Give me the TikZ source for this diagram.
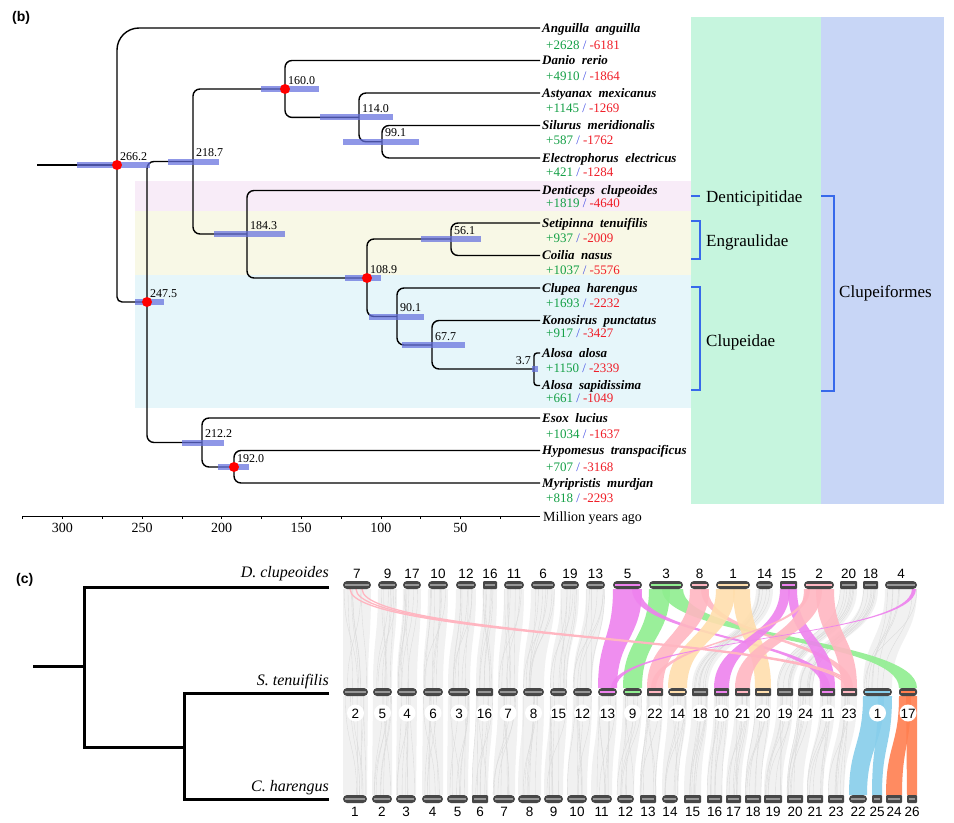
\documentclass[tikz,border=0pt]{standalone}
\usepackage{fontspec}
\setmainfont{Liberation Serif}
\newfontfamily\sansf{Liberation Sans}
\usetikzlibrary{calc}
\definecolor{bandpink}{RGB}{248,236,248}
\definecolor{bandyellow}{RGB}{248,248,230}
\definecolor{bandcyan}{RGB}{230,246,250}
\definecolor{panelgreen}{RGB}{198,245,222}
\definecolor{panelblue}{RGB}{200,214,246}
\definecolor{bracketblue}{RGB}{55,105,235}
\definecolor{hpd}{RGB}{100,112,222}
\definecolor{numgreen}{RGB}{20,160,70}
\definecolor{numblue}{RGB}{70,80,230}
\definecolor{numred}{RGB}{240,30,40}
\definecolor{cviolet}{RGB}{238,130,238}
\definecolor{cgreen}{RGB}{144,238,144}
\definecolor{cpink}{RGB}{255,182,193}
\definecolor{cwheat}{RGB}{255,222,173}
\definecolor{csky}{RGB}{135,206,235}
\definecolor{ccoral}{RGB}{255,127,80}
\definecolor{chrstripe}{RGB}{150,150,150}
\newcommand\synrib[7]{\fill[#1,fill opacity=0.9] (#2,#4) .. controls (#2,{(#4+#7)/2}) and (#5,{(#4+#7)/2}) .. (#5,#7) -- (#6,#7) .. controls (#6,{(#4+#7)/2}) and (#3,{(#4+#7)/2}) .. (#3,#4) -- cycle;}
\newcommand\grayrib[6]{%
 \fill[gray!11] (#1,#3) .. controls (#1,{(#3+#6)/2}) and (#4,{(#3+#6)/2}) .. (#4,#6) -- (#5,#6) .. controls (#5,{(#3+#6)/2}) and (#2,{(#3+#6)/2}) .. (#2,#3) -- cycle;
 \foreach \k in {1,...,7}{%
   \pgfmathsetmacro\pa{#1+rnd*(#2-#1)}%
   \pgfmathsetmacro\pb{#4+rnd*(#5-#4)}%
   \draw[gray!28,line width=0.35bp] (\pa,#3) .. controls (\pa,{(#3+#6)/2}) and (\pb,{(#3+#6)/2}) .. (\pb,#6);
 }}
\begin{document}
\begin{tikzpicture}[x=1bp,y=-1bp,
  branch/.style={line width=1.4bp,black,rounded corners=7bp},
  hpdbar/.style={line width=6bp,hpd,opacity=0.72},
  reddot/.style={fill=red},
  sp/.style={font=\fontsize{13bp}{15bp}\selectfont\bfseries\itshape,inner sep=0},
  num/.style={font=\fontsize{13bp}{15bp}\selectfont,inner sep=0},
  agelab/.style={font=\fontsize{12bp}{14bp}\selectfont,inner sep=0},
  fam/.style={font=\fontsize{17bp}{19bp}\selectfont,inner sep=0},
  axlab/.style={font=\fontsize{14bp}{16bp}\selectfont,inner sep=0},
  panellab/.style={font=\sansf\bfseries\fontsize{14bp}{16bp}\selectfont,inner sep=0},
  cspecies/.style={font=\fontsize{16bp}{18bp}\selectfont\itshape,inner sep=0},
  chrlab/.style={font=\sansf\fontsize{13.5bp}{15bp}\selectfont,inner sep=0},
  bracket/.style={line width=2bp,bracketblue},
  ctree/.style={line width=3bp,black,line join=miter},
  chrbody/.style={fill=black!72}
]
\pgfmathsetseed{11}
\useasboundingbox (0,0) rectangle (954,823);
\fill[white] (0,0) rectangle (954,823);
% ---------- panel (b) backgrounds
\fill[bandpink] (135,181) rectangle (691,211);
\fill[bandyellow] (135,211) rectangle (691,275);
\fill[bandcyan] (135,275) rectangle (691,408);
\fill[panelgreen] (691,17) rectangle (821,504);
\fill[panelblue] (821,17) rectangle (944,504);
\node[panellab,anchor=west] (pb) at (12,18) {(b)};
% ---------- leaves and internal nodes
\coordinate (root) at (37,165);
\coordinate (L1) at (540,28);
\coordinate (L2) at (540,60.5);
\coordinate (L3) at (540,93);
\coordinate (L4) at (540,125.5);
\coordinate (L5) at (540,158);
\coordinate (L6) at (540,190.5);
\coordinate (L7) at (540,223);
\coordinate (L8) at (540,255.5);
\coordinate (L9) at (540,288);
\coordinate (L10) at (540,320.5);
\coordinate (L11) at (540,353);
\coordinate (L12) at (540,385.5);
\coordinate (L13) at (540,418);
\coordinate (L14) at (540,450.5);
\coordinate (L15) at (540,483);
\coordinate (n266) at (117,165);
\coordinate (n247) at (147,302);
\coordinate (n218) at (193,161.5);
\coordinate (n160) at (285,89);
\coordinate (n114) at (359,117.4);
\coordinate (n099) at (382,141.75);
\coordinate (n184) at (247,234);
\coordinate (n108) at (367,278);
\coordinate (n056) at (451,239);
\coordinate (n090) at (397,316.5);
\coordinate (n067) at (432,345);
\coordinate (n003) at (534,369);
\coordinate (n212) at (202,442.5);
\coordinate (n192) at (234,467);
% ---------- branches
\draw[branch] (root) -- (n266);
\draw[branch,rounded corners=22bp] (L1) -| (n266);
\draw[branch,rounded corners=5bp] (n266) |- (n247);
\draw[branch] (n218) -| (n247) |- (n212);
\draw[branch] (n160) -| (n218) |- (n184);
\draw[branch] (L2) -| (n160) |- (n114);
\draw[branch] (L3) -| (n114) |- (n099);
\draw[branch] (L4) -| (n099) |- (L5);
\draw[branch] (L6) -| (n184) |- (n108);
\draw[branch] (n056) -| (n108) |- (n090);
\draw[branch] (L7) -| (n056) |- (L8);
\draw[branch] (L9) -| (n090) |- (n067);
\draw[branch] (L10) -| (n067) |- (n003);
\draw[branch,rounded corners=3bp] (L11) -| (n003) |- (L12);
\draw[branch] (L13) -| (n212) |- (n192);
\draw[branch] (L14) -| (n192) |- (L15);
% ---------- HPD bars
\draw[hpdbar] (77,165) -- (150,165);
\draw[hpdbar] (168,161.5) -- (219,161.5);
\draw[hpdbar] (261,89) -- (319,89);
\draw[hpdbar] (214,234) -- (285,234);
\draw[hpdbar] (320,117.4) -- (393,117.4);
\draw[hpdbar] (343,141.75) -- (419,141.75);
\draw[hpdbar] (421,239) -- (481,239);
\draw[hpdbar] (345,278) -- (381,278);
\draw[hpdbar] (369,316.5) -- (424,316.5);
\draw[hpdbar] (402,345) -- (465,345);
\draw[hpdbar] (532,369) -- (538,369);
\draw[hpdbar] (135,302) -- (164,302);
\draw[hpdbar] (182,442.5) -- (224,442.5);
\draw[hpdbar] (218,467) -- (249,467);
% ---------- red dots
\foreach \n in {n266,n247,n160,n108,n192} \fill[reddot] (\n) circle (5bp);
% ---------- age labels
\foreach \n/\t in {n266/266.2,n247/247.5,n218/218.7,n160/160.0,n114/114.0,n099/99.1,n184/184.3,n108/108.9,n056/56.1,n090/90.1,n067/67.7,n212/212.2,n192/192.0}
  \node[agelab,anchor=base west] (lab\n) at ($(\n)+(3,-5)$) {\t};
\node[agelab,anchor=base east] (labn003) at ($(n003)+(-3,-5)$) {3.7};
% ---------- species and counts
\foreach \i/\y/\g/\s/\ny/\p/\m in {1/28/Anguilla/anguilla/45/2628/6181,
  2/60.5/Danio/rerio/76/4910/1864,
  3/93/Astyanax/mexicanus/108/1145/1269,
  4/125.5/Silurus/meridionalis/140/587/1762,
  5/158/Electrophorus/electricus/172/421/1284,
  6/190.5/Denticeps/clupeoides/203/1819/4640,
  7/223/Setipinna/tenuifilis/238/937/2009,
  8/255.5/Coilia/nasus/270/1037/5576,
  9/288/Clupea/harengus/303/1693/2232,
  10/320.5/Konosirus/punctatus/333/917/3427,
  11/353/Alosa/alosa/368/1150/2339,
  12/385.5/Alosa/sapidissima/398/661/1049,
  13/418/Esox/lucius/434/1034/1637,
  14/450.5/Hypomesus/transpacificus/467/707/3168,
  15/483/Myripristis/murdjan/498/818/2293}{
  \node[sp,anchor=base west] (s\i) at (542,\y+4) {\g\hspace{0.5em}\s};
  \node[num,anchor=base west] (k\i) at (546,\ny+4.5) {\textcolor{numgreen}{+\p} \textcolor{numblue}{/} \textcolor{numred}{-\m}};
}
% ---------- axis
\draw[line width=1bp] (22.6,516) -- (540,516);
\foreach \a in {25,50,...,325} \draw[line width=0.6bp] ({540-\a*1.592},516) -- ({540-\a*1.592},519);
\foreach \a in {50,100,...,300} \node[axlab,anchor=base] (ax\a) at ({540-\a*1.592},532) {\a};
\node[axlab,anchor=base west] (mya) at (543,521) {Million years ago};
% ---------- brackets and families
\coordinate (bd1) at (691,196); \coordinate (bd2) at (700,196);
\draw[bracket] (bd1) -- (bd2);
\coordinate (be1) at (691,221); \coordinate (be2) at (691,259);
\draw[bracket] (be1) -- ++(9,0) |- (be2);
\coordinate (bc1) at (691,287); \coordinate (bc2) at (691,390);
\draw[bracket] (bc1) -- ++(9,0) |- (bc2);
\coordinate (bf1) at (821,196); \coordinate (bf2) at (821,391);
\draw[bracket] (bf1) -- ++(13,0) |- (bf2);
\node[fam,anchor=base west] (fD) at (706,202) {Denticipitidae};
\node[fam,anchor=base west] (fE) at (706,246) {Engraulidae};
\node[fam,anchor=base west] (fC) at (706,346) {Clupeidae};
\node[fam,anchor=base west] (fO) at (839,297) {Clupeiformes};
% =================== panel (c)
\node[panellab,anchor=west] (pc) at (16,580) {(c)};
\coordinate (croot) at (33,666);
\coordinate (cn1) at (84,666);
\coordinate (cD) at (329,587);
\coordinate (cn2) at (184,747);
\coordinate (cS) at (329,693);
\coordinate (cC) at (329,799);
\draw[ctree] (croot) -- (cn1);
\draw[ctree] (cD) -| (cn1) |- (cn2);
\draw[ctree] (cS) -| (cn2) |- (cC);
\node[cspecies,anchor=base east] (tD) at (329,577) {D. clupeoides};
\node[cspecies,anchor=base east] (tS) at (329,685) {S. tenuifilis};
\node[cspecies,anchor=base east] (tC) at (329,791) {C. harengus};
% ---------- gray synteny top -> middle
\foreach \a/\b/\c/\d in {343/371/343/368, 378/397/373/392, 403/421/397/417, 428/448/423/443,
  456/476/448/470, 483/497/476/493, 504/524/498/518, 531/555/523/544, 561/579/550/567,
  586/605/573/592, 756/773/692/708, 840/857/777/793, 863/878/798/813, 885/917/863/892}
  \grayrib{\a}{\b}{589}{\c}{\d}{688};
% ---------- gray synteny middle -> bottom
\foreach \a/\b/\c/\d in {343/368/343/367, 373/392/372/392, 397/417/396/416, 423/443/422/443,
  448/470/447/468, 476/493/472/488, 498/518/493/515, 523/544/518/541, 550/567/544/563,
  573/592/567/587, 598/617/591/612, 623/642/617/634, 647/663/640/656, 668/687/662/678,
  692/708/684/701, 714/729/707/722, 735/750/726/741, 755/771/745/761, 777/793/764/782,
  798/813/787/803, 820/835/807/823, 841/857/828/844}
  \grayrib{\a}{\b}{696}{\c}{\d}{795};
% ---------- coloured synteny top -> middle
\synrib{cgreen}{662}{683}{589}{899}{917}{688}
\synrib{cviolet}{613}{642}{589}{598}{617}{688}
\synrib{cgreen}{649}{670}{589}{623}{642}{688}
\synrib{cviolet}{632}{640}{589}{822}{830}{688}
\synrib{cpink}{690}{709}{589}{647}{663}{688}
\synrib{cpink}{701}{708}{589}{845}{853}{688}
\synrib{cwheat}{716}{735}{589}{668}{687}{688}
\synrib{cwheat}{733}{750}{589}{755}{771}{688}
\synrib{cviolet}{780}{790}{589}{714}{729}{688}
\synrib{cviolet}{788}{797}{589}{820}{835}{688}
\synrib{cpink}{804}{822}{589}{735}{750}{688}
\synrib{cpink}{816}{834}{589}{841}{857}{688}
\synrib{cpink}{806}{810}{589}{651}{656}{688}
\synrib{cviolet}{912}{916}{589}{611}{616}{688}
\foreach \s/\e in {350/846,356/849,362/852}
  \draw[cpink,line width=1.3bp] (\s,589) .. controls (\s,638.5) and (\e,638.5) .. (\e,688);
% ---------- coloured synteny middle -> bottom
\synrib{csky}{863}{884}{696}{849}{867}{795}
\synrib{csky}{878}{892}{696}{872}{882}{795}
\synrib{ccoral}{899}{911}{696}{886}{902}{795}
\synrib{ccoral}{906}{917}{696}{907}{917}{795}
% ---------- chromosomes top row
\foreach \a/\b/\l/\r/\c in {343/371/7/4/chrstripe, 378/397/9/4/chrstripe, 403/421/17/4/chrstripe,
  428/448/10/4/chrstripe, 456/476/12/4/chrstripe, 483/497/16/1/chrstripe, 504/524/11/4/chrstripe,
  531/555/6/4/chrstripe, 561/579/19/4/chrstripe, 586/605/13/4/chrstripe, 613/642/5/4/cviolet,
  649/683/3/4/cgreen, 690/709/8/4/cpink, 716/750/1/4/cwheat, 756/773/14/4/chrstripe,
  780/797/15/1/cviolet, 804/834/2/4/cpink, 840/857/20/1/chrstripe, 863/878/18/1/chrstripe,
  885/917/4/4/chrstripe}{
  \fill[chrbody,rounded corners=\r bp] (\a,581) rectangle (\b,589);
  \draw[\c,line width=1.8bp] (\a+2,585) -- (\b-2,585);
  \node[chrlab,anchor=base] (top\l) at ({(\a+\b)/2},578) {\l};
}
% ---------- chromosomes middle row
\foreach \a/\b/\l/\r/\c in {343/368/2/4/chrstripe, 373/392/5/4/chrstripe, 397/417/4/4/chrstripe,
  423/443/6/4/chrstripe, 448/470/3/4/chrstripe, 476/493/16/1/chrstripe, 498/518/7/4/chrstripe,
  523/544/8/4/chrstripe, 550/567/15/4/chrstripe, 573/592/12/4/chrstripe, 598/617/13/4/cviolet,
  623/642/9/4/cgreen, 647/663/22/1/cpink, 668/687/14/4/cwheat, 692/708/18/1/chrstripe,
  714/729/10/1/cviolet, 735/750/21/1/cpink, 755/771/20/1/cwheat, 777/793/19/1/chrstripe,
  798/813/24/1/chrstripe, 820/835/11/1/cviolet, 841/857/23/1/cpink, 863/892/1/4/csky,
  899/917/17/3/ccoral}{
  \fill[chrbody,rounded corners=\r bp] (\a,688) rectangle (\b,696);
  \draw[\c,line width=1.8bp] (\a+2,692) -- (\b-2,692);
  \fill[white] ({(\a+\b)/2},713) circle (8.5bp);
  \node[chrlab,anchor=base] (mid\l) at ({(\a+\b)/2},718) {\l};
}
% ---------- chromosomes bottom row
\foreach \a/\b/\l/\r in {343/367/1/4, 372/392/2/4, 396/416/3/4, 422/443/4/4, 447/468/5/4,
  472/488/6/1, 493/515/7/4, 518/541/8/4, 544/563/9/4, 567/587/10/4, 591/612/11/4,
  617/634/12/4, 640/656/13/1, 662/678/14/4, 684/701/15/1, 707/722/16/1, 726/741/17/1,
  745/761/18/1, 764/782/19/1, 787/803/20/1, 807/823/21/1, 828/844/23/1, 849/867/22/4,
  872/882/25/1, 886/902/24/1, 907/917/26/1}{
  \fill[chrbody,rounded corners=\r bp] (\a,795) rectangle (\b,803);
  \draw[chrstripe,line width=1.8bp] (\a+2,799) -- (\b-2,799);
  \node[chrlab,anchor=base] (bot\l) at ({(\a+\b)/2},816) {\l};
}
\end{tikzpicture}
\end{document}
